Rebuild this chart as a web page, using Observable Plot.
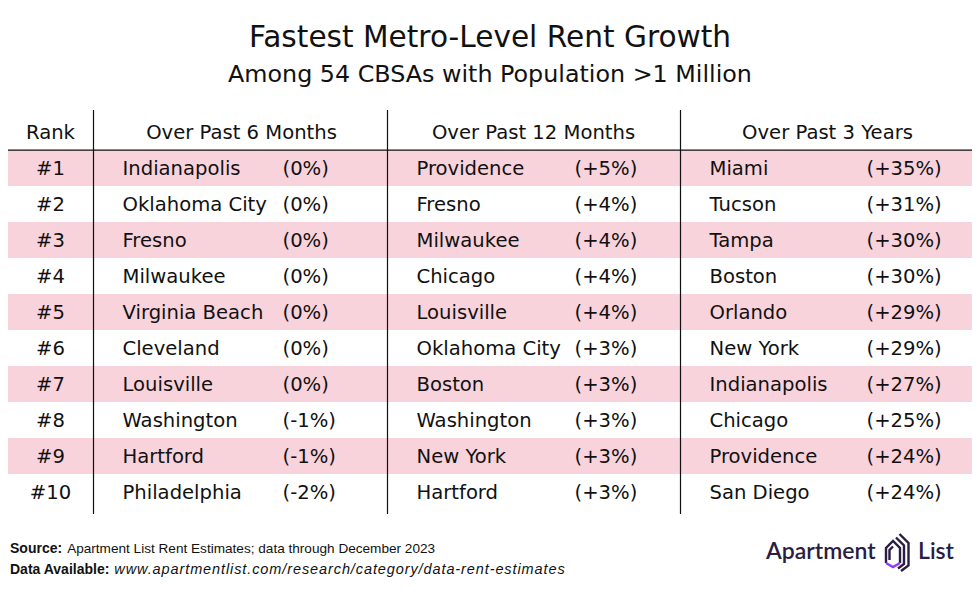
<!DOCTYPE html>
<html><head><meta charset="utf-8">
<script src="https://cdn.jsdelivr.net/npm/d3@7"></script>
<script src="https://cdn.jsdelivr.net/npm/@observablehq/plot@0.6"></script>
<style>
body{margin:0;background:#fff;width:980px;height:605px;position:relative;overflow:hidden;font-family:"DejaVu Sans",sans-serif;color:#111;}
#title{position:absolute;top:19px;left:0;width:980px;text-align:center;font-size:29.6px;line-height:36px;}
#subtitle{position:absolute;top:59px;left:0;width:980px;text-align:center;font-size:23.8px;line-height:30px;}
#chart{position:absolute;top:100px;left:0;}
#footer{position:absolute;top:538px;left:10px;font-family:"Liberation Sans",Arial,sans-serif;font-size:14px;line-height:20px;color:#111;}
#footer b{margin-right:5px;}
#footer .src{font-size:13.6px;}
#footer i{font-size:14.5px;letter-spacing:0.9px;}
#logo{position:absolute;left:758px;top:530px;}
</style></head><body>
<div id="title">Fastest Metro-Level Rent Growth</div>
<div id="subtitle">Among 54 CBSAs with Population &gt;1 Million</div>
<div id="chart"></div>
<div id="footer">
<div><b>Source:</b><span class="src">Apartment List Rent Estimates; data through December 2023</span></div>
<div><b>Data Available:</b><i>www.apartmentlist.com/research/category/data-rent-estimates</i></div>
</div>
<svg id="logo" width="215" height="45" viewBox="0 0 215 45">
<text x="8" y="29" font-family="Lato" font-weight="600" font-size="23" fill="#2b1d42">Apartment</text>
<g fill="none" stroke-width="2.4" stroke-linejoin="miter">
<path d="M128 33 L128 18 L135 11 L142 18 L142 33" stroke="#2b1d42"/>
<path d="M131.5 30 L131.5 20 L135 16.5" stroke="#2b1d42"/>
<path d="M128 33 L135 37 L142 33" stroke="#8b3dff"/>
<path d="M138 7.5 L146 15.5 L146 34 L140 38.5" stroke="#2b1d42"/>
<path d="M141.5 4 L150.5 13 L150.5 35.5 L143 41" stroke="#2b1d42"/>
</g>
<text x="160" y="29" font-family="Lato" font-weight="600" font-size="23" fill="#2b1d42">List</text>
</svg>
<script>
const headers = ["Rank", "Over Past 6 Months", "Over Past 12 Months", "Over Past 3 Years"];
const ranks = ["#1","#2","#3","#4","#5","#6","#7","#8","#9","#10"];
const cities6 = ["Indianapolis","Oklahoma City","Fresno","Milwaukee","Virginia Beach","Cleveland","Louisville","Washington","Hartford","Philadelphia"];
const growth6 = [0,0,0,0,0,0,0,-1,-1,-2];
const cities12 = ["Providence","Fresno","Milwaukee","Chicago","Louisville","Oklahoma City","Boston","Washington","New York","Hartford"];
const growth12 = [5,4,4,4,4,3,3,3,3,3];
const cities3y = ["Miami","Tucson","Tampa","Boston","Orlando","New York","Indianapolis","Chicago","Providence","San Diego"];
const growth3y = [35,31,30,30,29,29,27,25,24,24];

// table layout (column anchors in pixels)
const COL = {rank:50, h6:241, h12:533, h3:827, n6:122, v6:282, n12:416, v12:574, n3:709, v3:866};
const dividers = [93, 387, 680];
const bandL = 8, bandR = 972;

const fmt = v => `(${v > 0 ? "+" : ""}${v}%)`;
const rows = ranks.map((r, i) => ({
  rank: r, i,
  n6: cities6[i], v6: fmt(growth6[i]),
  n12: cities12[i], v12: fmt(growth12[i]),
  n3: cities3y[i], v3: fmt(growth3y[i])
}));
const headerRows = headers.map((h, i) => ({h, x: [COL.rank, COL.h6, COL.h12, COL.h3][i]}));

const H = 420, mT = 10, mB = 6;
const step = (H - mT - mB) / 11;

const textOpts = {fill: "#111", fontSize: 19.6};
const plot = Plot.plot({
  width: 980, height: H, marginTop: mT, marginBottom: mB, marginLeft: 0, marginRight: 0,
  x: {type: "linear", domain: [0, 980], range: [0, 980], axis: null},
  y: {type: "band", domain: ["header", ...ranks], padding: 0, axis: null},
  style: {fontFamily: "'DejaVu Sans', sans-serif", background: "#fff"},
  marks: [
    Plot.barX(rows.filter(d => d.i % 2 === 0), {y: "rank", x1: () => bandL, x2: () => bandR, fill: "#f9d3dc"}),
    Plot.ruleY(["#1"], {y: d => d, x1: () => bandL, x2: () => bandR, dy: -step / 2, stroke: "#111", strokeWidth: 1.2}),
    Plot.ruleX(dividers, {x: d => d, stroke: "#111", strokeWidth: 1.2}),
    Plot.text(headerRows, {x: "x", y: () => "header", text: "h", textAnchor: "middle", ...textOpts}),
    Plot.text(rows, {x: () => COL.rank, y: "rank", text: "rank", textAnchor: "middle", ...textOpts}),
    Plot.text(rows, {x: () => COL.n6, y: "rank", text: "n6", textAnchor: "start", ...textOpts}),
    Plot.text(rows, {x: () => COL.v6, y: "rank", text: "v6", textAnchor: "start", ...textOpts}),
    Plot.text(rows, {x: () => COL.n12, y: "rank", text: "n12", textAnchor: "start", ...textOpts}),
    Plot.text(rows, {x: () => COL.v12, y: "rank", text: "v12", textAnchor: "start", ...textOpts}),
    Plot.text(rows, {x: () => COL.n3, y: "rank", text: "n3", textAnchor: "start", ...textOpts}),
    Plot.text(rows, {x: () => COL.v3, y: "rank", text: "v3", textAnchor: "start", ...textOpts})
  ]
});
document.getElementById("chart").appendChild(plot);
</script>
</body></html>
